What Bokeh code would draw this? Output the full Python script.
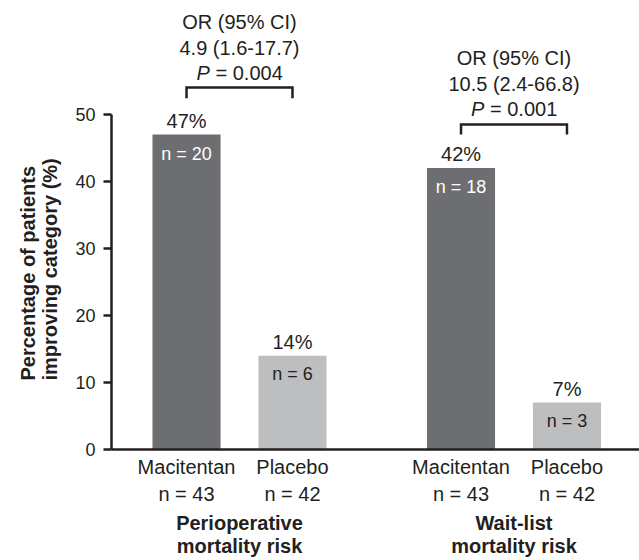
from bokeh.plotting import figure
from bokeh.models import Range1d, FixedTicker, LinearAxis, Title
from bokeh.core.properties import value
from bokeh.embed import file_html
from bokeh.resources import INLINE

# ---------------- data ----------------
group_labels = ["Perioperative\nmortality risk", "Wait-list\nmortality risk"]
treatments = ["Macitentan", "Placebo"]
macitentan_pct = [47, 42]
placebo_pct = [14, 7]
macitentan_resp = [20, 18]
placebo_resp = [6, 3]
macitentan_total = [43, 43]
placebo_total = [42, 42]
or_ci = ["4.9 (1.6-17.7)", "10.5 (2.4-66.8)"]
p_vals = ["0.004", "0.001"]
y_ticks = [0, 10, 20, 30, 40, 50]
y_label = "Percentage of patients\nimproving category (%)"

# ---------------- style / layout ----------------
FONT = "Liberation Sans"
INK = "#231f20"
DARK = "#6d6e71"
LIGHT = "#bcbec0"

X0, X1 = 0.5337, 2.4572
Y1 = 67.0

group_x = [1.0, 2.0]
off = 0.193
bw = 0.248
mac_x = [g - off for g in group_x]
pla_x = [g + off for g in group_x]
bracket_top = [54.0, 48.5]
bracket_leg = [52.4, 47.0]
DY = -6  # baseline correction (px)

p = figure(width=639, height=560,
           x_range=Range1d(X0, X1), y_range=Range1d(0, Y1),
           output_backend="svg", toolbar_location=None,
           min_border_left=111, min_border_right=0,
           min_border_top=0, min_border_bottom=111)
p.grid.visible = False
p.outline_line_color = None
p.background_fill_color = "white"
p.border_fill_color = "white"

# bars
p.vbar(x=mac_x, top=macitentan_pct, width=bw, fill_color=DARK, line_color=None)
p.vbar(x=pla_x, top=placebo_pct, width=bw, fill_color=LIGHT, line_color=None)

F = value(FONT)
# percent labels
p.text(x=mac_x + pla_x, y=macitentan_pct + placebo_pct,
       text=[f"{v}%" for v in macitentan_pct + placebo_pct],
       text_font=F, text_font_size="20px", text_color=INK,
       text_align="center", text_baseline="alphabetic", y_offset=-8 + DY)
# n inside bars
p.text(x=mac_x, y=macitentan_pct, text=[f"n = {v}" for v in macitentan_resp],
       text_font=F, text_font_size="18px", text_color="white",
       text_align="center", text_baseline="alphabetic", y_offset=25 + DY)
p.text(x=pla_x, y=placebo_pct, text=[f"n = {v}" for v in placebo_resp],
       text_font=F, text_font_size="18px", text_color=INK,
       text_align="center", text_baseline="alphabetic", y_offset=24 + DY)

# brackets
p.multi_line(xs=[[m, m, q, q] for m, q in zip(mac_x, pla_x)],
             ys=[[lg, tp, tp, lg] for lg, tp in zip(bracket_leg, bracket_top)],
             line_color=INK, line_width=2.5, line_join="miter")

# OR annotations
p.text(x=group_x, y=bracket_top, text=["OR (95% CI)"] * 2,
       text_font=F, text_font_size="20px", text_color=INK,
       text_align="center", text_baseline="alphabetic", y_offset=-60 + DY)
p.text(x=group_x, y=bracket_top, text=or_ci,
       text_font=F, text_font_size="20px", text_color=INK,
       text_align="center", text_baseline="alphabetic", y_offset=-34 + DY)
p.text(x=group_x, y=bracket_top, text=["P"] * 2,
       text_font=F, text_font_size="20px", text_font_style="italic", text_color=INK,
       text_align="left", text_baseline="alphabetic", y_offset=-9 + DY, x_offset=-43)
p.text(x=group_x, y=bracket_top, text=[f"= {v}" for v in p_vals],
       text_font=F, text_font_size="20px", text_color=INK,
       text_align="left", text_baseline="alphabetic", y_offset=-9 + DY, x_offset=-24)

# y axis
yax = p.yaxis[0]
yax.ticker = FixedTicker(ticks=y_ticks, minor_ticks=[])
yax.bounds = (0, 50)
yax.axis_line_color = INK
yax.axis_line_width = 2.5
yax.major_tick_line_color = INK
yax.major_tick_line_width = 2.5
yax.major_tick_out = 8
yax.major_tick_in = 0
yax.minor_tick_line_color = None
yax.major_label_text_font = FONT
yax.major_label_text_font_size = "18px"
yax.major_label_text_color = INK
yax.major_label_standoff = 8

# y axis title: one two-line rotated title, placed over the 0-50 span
p.add_layout(Title(text=y_label, align="left", offset=69, standoff=23,
                   text_font=FONT, text_font_size="20px", text_font_style="bold",
                   text_line_height=1.0, text_color=INK), "left")

# x axis: treatment labels
xax = p.xaxis[0]
labels = {}
for x, n in zip(mac_x, macitentan_total):
    labels[x] = f"{treatments[0]}\nn = {n}"
for x, n in zip(pla_x, placebo_total):
    labels[x] = f"{treatments[1]}\nn = {n}"
xax.ticker = FixedTicker(ticks=sorted(mac_x + pla_x), minor_ticks=[])
xax.major_label_overrides = labels
xax.axis_line_color = INK
xax.axis_line_width = 2.5
xax.major_tick_line_color = None
xax.major_tick_out = 0
xax.major_tick_in = 0
xax.minor_tick_line_color = None
xax.major_label_text_font = FONT
xax.major_label_text_font_size = "20px"
xax.major_label_text_color = INK
xax.major_label_text_line_height = 1.25
xax.major_label_standoff = 6

# x axis: group labels
gax = LinearAxis(ticker=FixedTicker(ticks=group_x, minor_ticks=[]),
                 major_label_overrides={g: t for g, t in zip(group_x, group_labels)})
gax.axis_line_color = None
gax.major_tick_line_color = None
gax.major_tick_out = 0
gax.major_tick_in = 0
gax.minor_tick_line_color = None
gax.major_label_text_font = FONT
gax.major_label_text_font_size = "20px"
gax.major_label_text_font_style = "bold"
gax.major_label_text_color = INK
gax.major_label_text_line_height = 1.05
gax.major_label_standoff = 3
p.add_layout(gax, "below")

open("out.html", "w").write(file_html(p, INLINE))
